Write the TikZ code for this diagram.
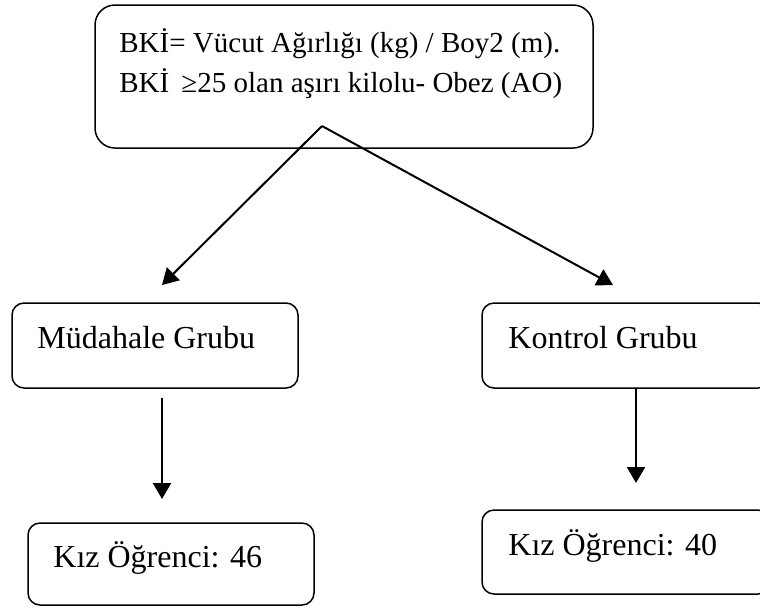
\documentclass[tikz,border=0pt]{standalone}
\usepackage{fontspec}
\setmainfont{Liberation Serif}
\usetikzlibrary{arrows.meta}

\begin{document}
\begin{tikzpicture}[x=0.5pt,y=-0.5pt]
\tikzstyle{box}=[draw, line width=0.75pt, rounded corners=6pt, inner sep=0pt]
\tikzstyle{txt}=[anchor=base west, inner sep=0pt, font=\fontsize{16}{20}\selectfont]
\tikzstyle{arr}=[line width=1pt, -{Triangle[length=8pt,width=9pt]}]

\clip (0,0) rectangle (760,607);

% formula box on top (base anchor sits on the last line)
\node[box, rounded corners=10pt, minimum width=249pt, minimum height=71.5pt] (bki) at (344,76.5) {};
\node[txt, align=left, font=\fontsize{14.5}{20}\selectfont] (bkitxt) at (119,92)
  {BKİ= Vücut Ağırlığı (kg) / Boy2 (m).\\BKİ\ \,≥25 olan aşırı kilolu- Obez (AO)};

% the two groups
\node[box, minimum width=143pt, minimum height=42.5pt] (mud) at (155,345.5) {};
\node[txt] (mudtxt) at (37,348) {Müdahale Grubu};
\node[box, minimum width=144pt, minimum height=42.5pt] (kon) at (626,345.5) {};
\node[txt] (kontxt) at (508,348) {Kontrol Grubu};

% sample sizes
\node[box, minimum width=143pt, minimum height=41pt] (mudn) at (171,564) {};
\node[txt] (mudntxt) at (53,567) {Kız Öğrenci: 46};
\node[box, minimum width=144pt, minimum height=42pt] (konn) at (626,552) {};
\node[txt] (konntxt) at (508,555) {Kız Öğrenci: 40};

\coordinate (fork) at (322,126);
\coordinate (mudtip) at (162,285);
\coordinate (kontip) at (613,285);
\coordinate (mudntop) at (162,398);
\coordinate (mudntip) at (162,499);
\coordinate (konntip) at (636,483);

\draw[arr] (fork) -- (mudtip);
\draw[arr] (fork) -- (kontip);
\draw[arr] (mudntop) -- (mudntip);
\draw[arr] (kon.south -| konntip) -- (konntip);
\end{tikzpicture}
\end{document}
